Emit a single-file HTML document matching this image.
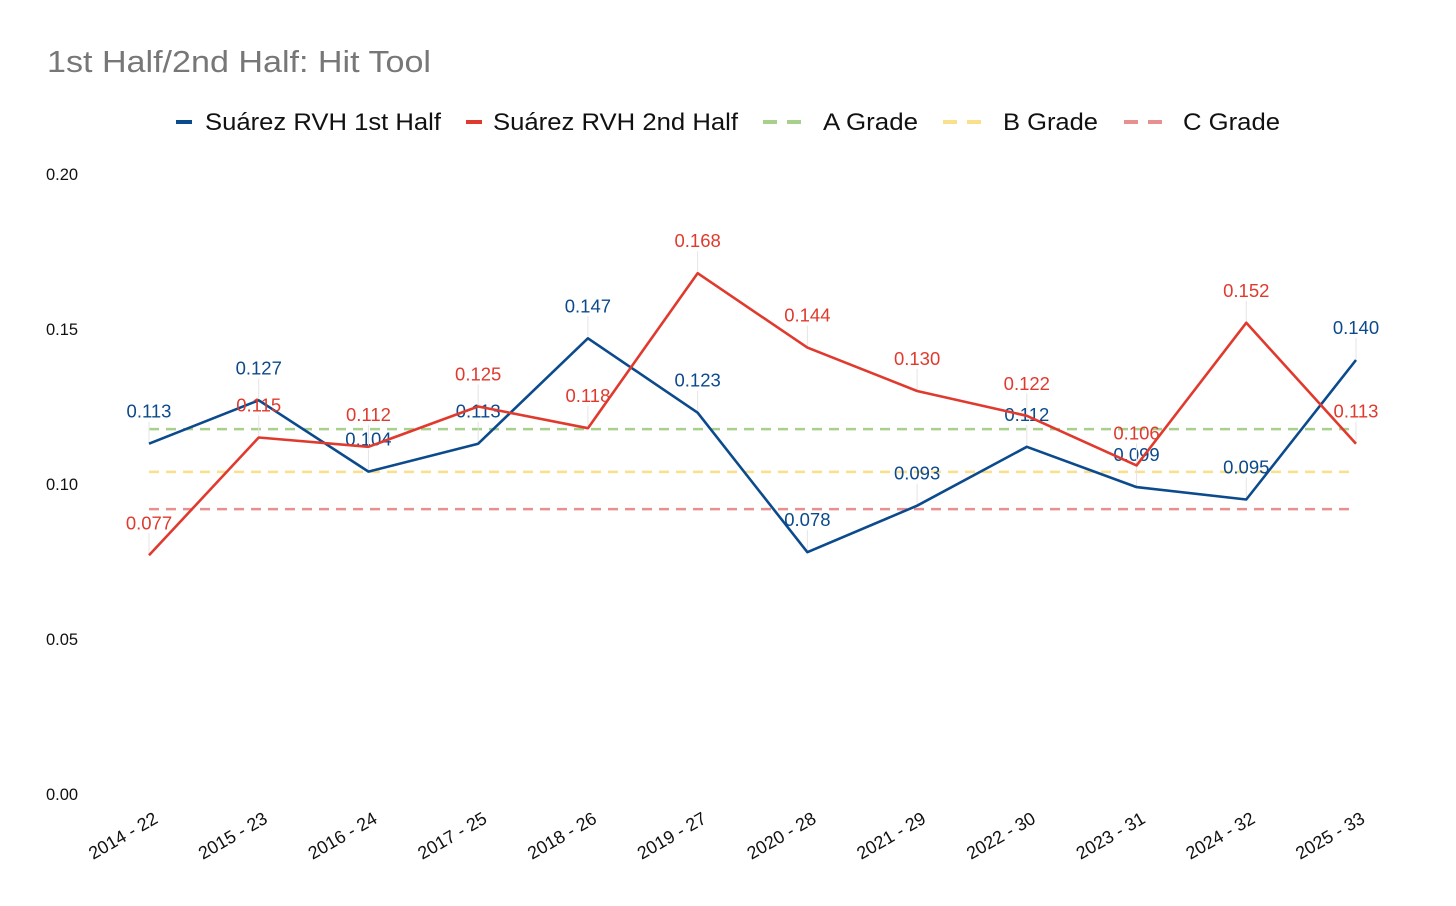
<!DOCTYPE html>
<html><head><meta charset="utf-8"><style>
body{margin:0;background:#fff;width:1456px;height:901px;overflow:hidden;font-family:"Liberation Sans",sans-serif}
</style></head><body>
<svg id="chart" width="1456" height="901" xmlns="http://www.w3.org/2000/svg" font-family="Liberation Sans, sans-serif"></svg>
<script>
const categories=["2014 - 22","2015 - 23","2016 - 24","2017 - 25","2018 - 26","2019 - 27","2020 - 28","2021 - 29","2022 - 30","2023 - 31","2024 - 32","2025 - 33"];
const firstHalf=[0.113,0.127,0.104,0.113,0.147,0.123,0.078,0.093,0.112,0.099,0.095,0.140];
const secondHalf=[0.077,0.115,0.112,0.125,0.118,0.168,0.144,0.130,0.122,0.106,0.152,0.113];
const gradeA=0.1177, gradeB=0.1039, gradeC=0.0919;
const yTicks=[0,0.05,0.10,0.15,0.20];
const yTickLabels=["0.00","0.05","0.10","0.15","0.20"];

const svg=document.getElementById('chart');
const NS="http://www.w3.org/2000/svg";
function x(i){return 149+i*(1356-149)/(categories.length-1);}
function y(v){return 794-v*3100;}
function el(tag,attrs,parent){const e=document.createElementNS(NS,tag);for(const k in attrs)e.setAttribute(k,attrs[k]);(parent||svg).appendChild(e);return e;}

let t=el('text',{x:47,y:72,'font-size':31,fill:'#777',textLength:384,lengthAdjust:'spacingAndGlyphs'});t.textContent='1st Half/2nd Half: Hit Tool';



// legend
const legend=[["Suárez RVH 1st Half","#0b4a8c",176,false,205,236],["Suárez RVH 2nd Half","#e03a2e",466,false,493,245],["A Grade","#a8d08d",763,true,823,95],["B Grade","#fae08a",943,true,1003,95],["C Grade","#e89090",1124,true,1183,97]];
legend.forEach((l,i)=>{
  const g=el('g',{});
  
  
  if(l[3]){el('line',{x1:l[2],x2:l[2]+47,y1:122,y2:122,stroke:l[1],'stroke-width':4,'stroke-dasharray':'14,10'},g);}
  else{el('line',{x1:l[2],x2:l[2]+16,y1:122,y2:122,stroke:l[1],'stroke-width':4},g);}
  const tx=el('text',{x:l[4],y:130,'font-size':24,fill:'#111',textLength:l[5],lengthAdjust:'spacingAndGlyphs'},g);tx.textContent=l[0];
});

// y ticks
yTicks.forEach((v,i)=>{
  const tx=el('text',{x:46,y:y(v)+6,'font-size':16.5,fill:'#111'});tx.textContent=yTickLabels[i];
  
  
});
// x ticks
categories.forEach((c,i)=>{
  const tx=el('text',{x:x(i)+10,y:822,'font-size':18,fill:'#111','text-anchor':'end',transform:`rotate(-30 ${x(i)+10} 822)`});tx.textContent=c;
  
  
});

// grade lines
[[gradeA,'#a8d08d','a-grade-line'],[gradeB,'#fae08a','b-grade-line'],[gradeC,'#e89090','c-grade-line']].forEach(g=>{
  const ln=el('line',{x1:149,x2:1356,y1:y(g[0]),y2:y(g[0]),stroke:g[1],'stroke-width':2.5,'stroke-dasharray':'10,7'});
  
  
});

function series(vals,color,name){
  vals.forEach((v,i)=>{el('line',{x1:x(i),x2:x(i),y1:y(v),y2:y(v)-22,stroke:'#e4e4e4','stroke-width':1});});
  const p=el('polyline',{points:vals.map((v,i)=>x(i)+','+y(v)).join(' '),fill:'none',stroke:color,'stroke-width':2.6,'stroke-linejoin':'round'});
  
  
  vals.forEach((v,i)=>{
    const tx=el('text',{x:x(i),y:y(v)-26,'font-size':18.5,fill:color,'text-anchor':'middle'});tx.textContent=v.toFixed(3);
    
    
  });
}
series(firstHalf,'#0b4a8c','first-half-line');
series(secondHalf,'#e03a2e','second-half-line');
</script>
</body></html>
